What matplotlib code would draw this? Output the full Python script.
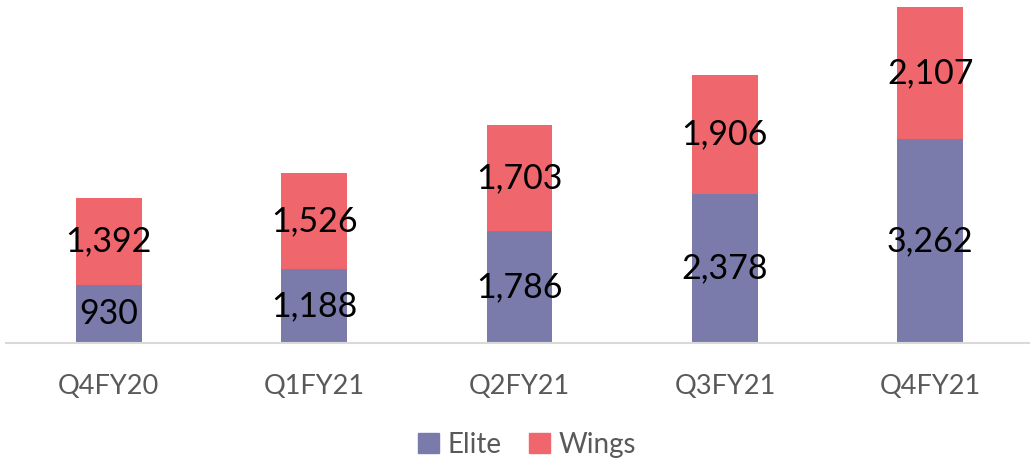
import matplotlib
matplotlib.use("Agg")
import matplotlib.pyplot as plt
from matplotlib.patches import Patch

categories = ["Q4FY20", "Q1FY21", "Q2FY21", "Q3FY21", "Q4FY21"]
elite = [930, 1188, 1786, 2378, 3262]
wings = [1392, 1526, 1703, 1906, 2107]

c_elite = "#7A7BAB"
c_wings = "#F0666D"

plt.rcParams['font.family'] = ['Lato', 'DejaVu Sans']

fig = plt.figure(figsize=(10.3, 4.65), dpi=100)
ax = fig.add_axes([6/1030, 1 - 343/465, 1027/1030, 343/465])

x = list(range(len(categories)))
w = 0.32
ax.bar(x, elite, width=w, color=c_elite)
ax.bar(x, wings, width=w, bottom=elite, color=c_wings)

for i in x:
    ax.text(i, elite[i] / 2, f"{elite[i]:,}", ha="center", va="center", fontsize=24.5, color="black")
    ax.text(i, elite[i] + wings[i] / 2, f"{wings[i]:,}", ha="center", va="center", fontsize=24.5, color="black")

ax.set_xlim(-0.5, len(categories) - 0.5)
ax.set_ylim(0, 5480)
ax.set_yticks([])
ax.set_xticks(x)
ax.set_xticklabels(categories, fontsize=19.5, color="#595959")
ax.tick_params(axis="x", length=0, pad=22)
for s in ["top", "left", "right"]:
    ax.spines[s].set_visible(False)
ax.spines["bottom"].set_color("#D9D9D9")
ax.spines["bottom"].set_linewidth(1.5)

handles = [Patch(color=c_elite, label="Elite"), Patch(color=c_wings, label="Wings")]
fig.legend(handles=handles, loc="center", bbox_to_anchor=(527/1030, 1 - 445/465), ncol=2,
           frameon=False, fontsize=20, handlelength=0.75, handleheight=0.75,
           handletextpad=0.3, columnspacing=1.0, labelcolor="#595959")

fig.savefig("out.png", dpi=100)
